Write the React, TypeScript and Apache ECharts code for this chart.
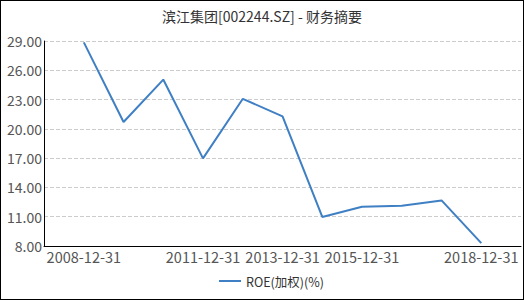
import React, { useEffect, useRef } from "react";
import * as echarts from "echarts";

const titleText = "滨江集团[002244.SZ] - 财务摘要";
const seriesName = "ROE(加权)(%)";
const dates = [
  "2008-12-31", "2009-12-31", "2010-12-31", "2011-12-31", "2012-12-31", "2013-12-31",
  "2014-12-31", "2015-12-31", "2016-12-31", "2017-12-31", "2018-12-31",
];
const roe = [28.86, 20.7, 25.05, 16.98, 23.08, 21.28, 10.98, 12.02, 12.12, 12.67, 8.3];
const xLabelDates = ["2008-12-31", "2011-12-31", "2013-12-31", "2015-12-31", "2018-12-31"];
const xMin = "2007-12-31";
const xMax = "2019-12-31";
const yMin = 8;
const yMax = 29;
const yStep = 3;

const FONT = "'Noto Sans CJK SC', 'Noto Sans', sans-serif";
const LINE_COLOR = "#3f7fc4";

function pad(n: number) {
  return n < 10 ? "0" + n : "" + n;
}
const toTs = (s: string) => Date.parse(s);

export default function App() {
  const ref = useRef<HTMLDivElement>(null);
  useEffect(() => {
    if (!ref.current) return;
    const chart = echarts.init(ref.current, null, { renderer: "svg" });
    chart.setOption({
      animation: false,
      backgroundColor: "#fff",
      textStyle: { fontFamily: FONT },
      title: {
        text: titleText,
        left: "center",
        top: 3,
        textStyle: { fontSize: 14, fontWeight: "normal", color: "#333", fontFamily: FONT },
      },
      legend: {
        data: [{ name: seriesName, icon: "rect" }],
        top: 266,
        left: 213,
        itemWidth: 22,
        itemHeight: 2,
        itemGap: 6,
        textStyle: { fontSize: 12.5, color: "#333", fontFamily: FONT, lineHeight: 18 },
      },
      grid: { left: 43, right: 2, top: 40, bottom: 53, containLabel: false },
      xAxis: {
        type: "value",
        min: toTs(xMin),
        max: toTs(xMax),
        axisLine: { show: true, onZero: false, lineStyle: { color: "#000", width: 1 } },
        axisTick: { show: false },
        splitLine: { show: false },
        axisLabel: {
          customValues: xLabelDates.map(toTs),
          color: "#555",
          fontSize: 14.5,
          margin: 3,
          fontFamily: FONT,
          formatter: (v: number) => {
            const d = new Date(v);
            return d.getUTCFullYear() + "-" + pad(d.getUTCMonth() + 1) + "-" + pad(d.getUTCDate());
          },
        },
      },
      yAxis: {
        type: "value",
        min: yMin,
        max: yMax,
        interval: yStep,
        axisLine: { show: true, lineStyle: { color: "#000", width: 1 } },
        axisTick: { show: false },
        splitLine: { show: true, lineStyle: { color: "#ccc", type: "dashed", width: 1 } },
        axisLabel: {
          color: "#555",
          fontSize: 14,
          margin: 2,
          fontFamily: FONT,
          formatter: (v: number) => v.toFixed(2),
        },
      },
      series: [
        {
          name: seriesName,
          type: "line",
          data: dates.map((d, i) => [toTs(d), roe[i]]),
          symbol: "none",
          lineStyle: { color: LINE_COLOR, width: 2 },
          itemStyle: { color: LINE_COLOR },
        },
      ],
    });
    return () => chart.dispose();
  }, []);
  return (
    <div
      ref={ref}
      style={{
        position: "absolute",
        left: 0,
        top: 0,
        width: 524,
        height: 300,
        boxSizing: "border-box",
        border: "1px solid #000",
      }}
    />
  );
}
